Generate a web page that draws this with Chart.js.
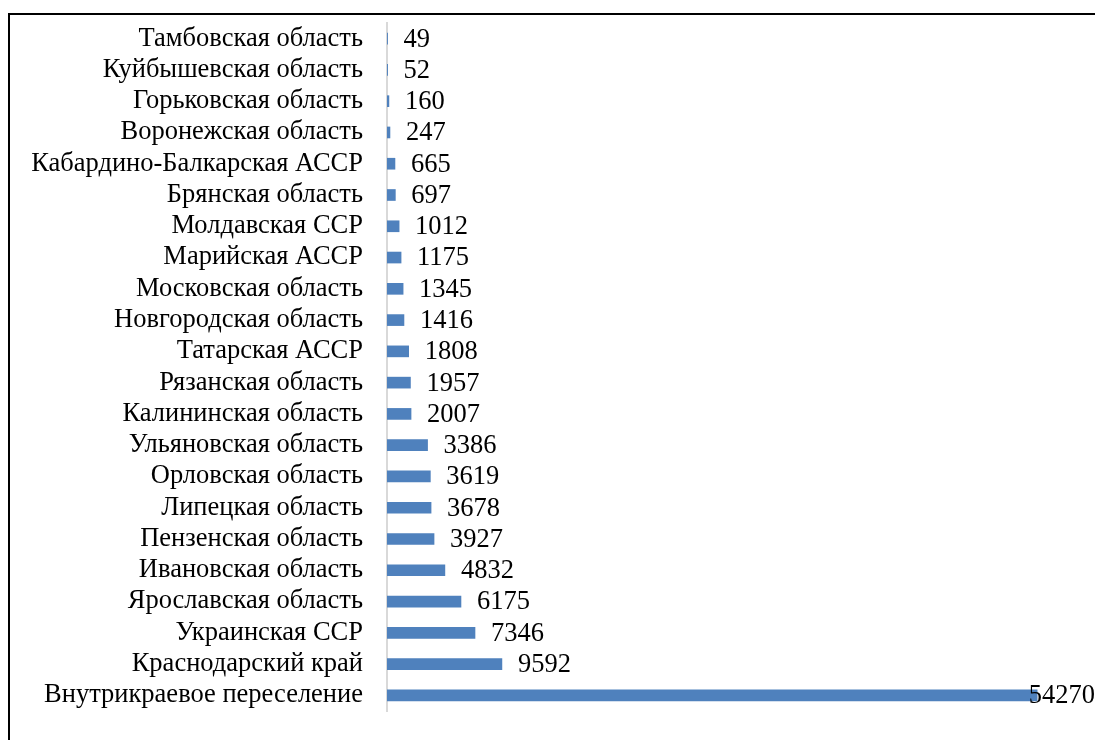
<!DOCTYPE html>
<html><head><meta charset="utf-8">
<script src="https://cdn.jsdelivr.net/npm/chart.js@4"></script>
<style>
html,body{margin:0;padding:0;background:#fff;overflow:hidden;width:1095px;height:740px;}
#wrap{position:absolute;left:0;top:0;width:1095px;height:740px;}
#frame{position:absolute;left:8px;top:13px;width:1200px;height:800px;border:2px solid #000;box-sizing:border-box;pointer-events:none;}
</style></head>
<body>
<div id="wrap"><canvas id="c" width="1095" height="740"></canvas></div>
<div id="frame"></div>
<script>
const categories = ["Тамбовская область","Куйбышевская область","Горьковская область","Воронежская область","Кабардино-Балкарская АССР","Брянская область","Молдавская ССР","Марийская АССР","Московская область","Новгородская область","Татарская АССР","Рязанская область","Калининская область","Ульяновская область","Орловская область","Липецкая область","Пензенская область","Ивановская область","Ярославская область","Украинская ССР","Краснодарский край","Внутрикраевое переселение"];
const values = [49,52,160,247,665,697,1012,1175,1345,1416,1808,1957,2007,3386,3619,3678,3927,4832,6175,7346,9592,54270];

const FONT = '"Liberation Serif","Times New Roman",serif';
const labelPlugin = {
  id:'vlabels',
  afterDatasetsDraw(chart){
    const ctx = chart.ctx;
    const meta = chart.getDatasetMeta(0);
    ctx.save();
    ctx.font = '26.5px ' + FONT;
    ctx.fillStyle = '#000';
    ctx.textBaseline = 'middle';
    ctx.textAlign = 'left';
    meta.data.forEach((bar,i)=>{
      const t = String(values[i]);
      const w = ctx.measureText(t).width;
      let x = bar.x + 16;
      if (x + w > chart.width) x = chart.width - w;
      ctx.fillText(t, x, bar.y + 1);
    });
    ctx.restore();
  }
};

new Chart(document.getElementById('c'), {
  type:'bar',
  data:{labels:categories, datasets:[{data:values, backgroundColor:'#4F81BD', barThickness:11}]},
  options:{
    indexAxis:'y', responsive:false, animation:false,
    layout:{padding:{top:23,bottom:29,left:0,right:0}},
    plugins:{legend:{display:false}, tooltip:{enabled:false}},
    scales:{
      x:{display:false, min:0, max:59100},
      y:{
        afterFit(s){ s.width = 387; s.paddingTop = 0; s.paddingBottom = 0; },
        grid:{display:false, drawTicks:false},
        border:{display:true, color:'#d9d9d9', width:2},
        ticks:{color:'#000', font:{family:FONT, size:26.5}, padding:24, autoSkip:false}
      }
    }
  },
  plugins:[labelPlugin]
});
</script>
</body></html>
